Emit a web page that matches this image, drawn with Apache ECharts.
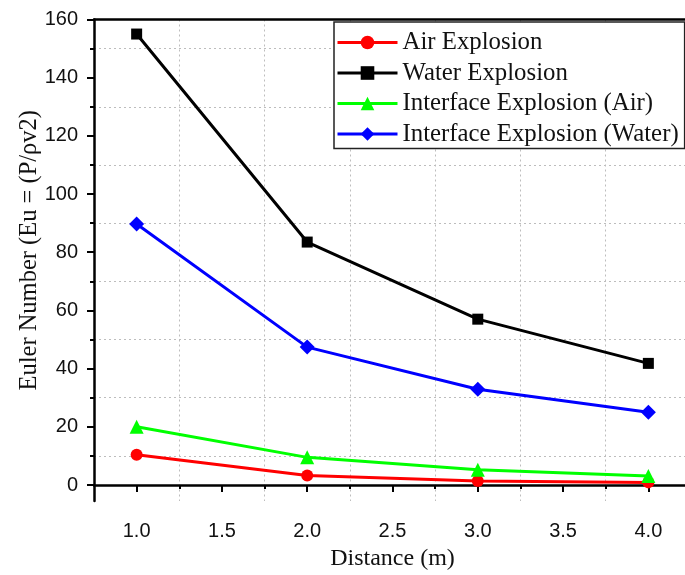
<!DOCTYPE html>
<html>
<head>
<meta charset="utf-8">
<script src="https://cdn.jsdelivr.net/npm/echarts@6/dist/echarts.min.js"></script>
<style>
  html, body { margin: 0; padding: 0; background: #fff; }
  #chart { width: 685px; height: 575px; }
</style>
</head>
<body>
<div id="chart"></div>
<script>
// Euler number versus stand-off distance for four explosion scenarios
const distance = [1.0, 2.0, 3.0, 4.0];
const airExplosion = [10.4, 3.3, 1.4, 0.9];
const waterExplosion = [155.0, 83.5, 57.0, 41.8];
const interfaceAir = [20.0, 9.5, 5.2, 3.1];
const interfaceWater = [89.7, 47.4, 32.9, 25.0];

const xMajorTicks = [1.0, 1.5, 2.0, 2.5, 3.0, 3.5, 4.0];
const xMinorTicks = [1.25, 1.75, 2.25, 2.75, 3.25, 3.75];
const yMajorTicks = [0, 20, 40, 60, 80, 100, 120, 140, 160];
const yMinorTicks = [10, 30, 50, 70, 90, 110, 130, 150];

const X_MIN = 0.75, X_MAX = 4.25;
const Y_MIN = -5.5, Y_MAX = 160;

const serif = '"Liberation Serif", "Times New Roman", serif';
const sans = '"Liberation Sans", Arial, sans-serif';

const pairs = (ys) => distance.map((x, i) => [x, ys[i]]);

const chart = echarts.init(document.getElementById('chart'), null, { renderer: 'canvas' });

const gridDash = { color: '#bdbdbd', width: 1, type: [2, 3] };

chart.setOption({
  animation: false,
  backgroundColor: '#fff',
  grid: { left: 94, top: 19.5, bottom: 74, right: -6, outerBoundsMode: 'none' },
  legend: {
    orient: 'vertical',
    left: 334,
    top: 22,
    itemWidth: 60,
    itemHeight: 17,
    itemGap: 5.5,
    padding: [8, 6, 2, 2],
    borderColor: '#222',
    borderWidth: 1.5,
    backgroundColor: '#fff',
    lineStyle: { width: 3 },
    textStyle: { fontFamily: serif, fontSize: 24.8, color: '#111' }
  },
  xAxis: [
    {
      type: 'value', min: X_MIN, max: X_MAX, position: 'bottom',
      axisLine: { lineStyle: { color: '#000', width: 2.5 } },
      axisTick: { customValues: xMajorTicks, length: 7, lineStyle: { color: '#000', width: 2 } },
      axisLabel: {
        customValues: xMajorTicks, margin: 20,
        fontFamily: sans, fontSize: 20, color: '#111',
        formatter: (v) => v.toFixed(1)
      },
      splitLine: { show: false },
      name: 'Distance (m)', nameLocation: 'middle', nameGap: 46, nameMoveOverlap: false,
      nameTextStyle: { fontFamily: serif, fontSize: 24, color: '#111' }
    },
    {
      type: 'value', min: X_MIN, max: X_MAX, position: 'bottom',
      axisLine: { show: false },
      axisTick: { customValues: xMinorTicks, length: 4, lineStyle: { color: '#000', width: 2 } },
      axisLabel: { show: false },
      splitLine: { show: true, lineStyle: gridDash }
    },
    {
      type: 'value', min: X_MIN, max: X_MAX, position: 'top',
      axisLine: { lineStyle: { color: '#000', width: 2.5 } },
      axisTick: { show: false }, axisLabel: { show: false }, splitLine: { show: false }
    }
  ],
  yAxis: [
    {
      type: 'value', min: Y_MIN, max: Y_MAX, position: 'left',
      axisLine: { show: true, lineStyle: { color: '#000', width: 2.5 } },
      axisTick: { show: true, customValues: yMajorTicks, length: 7, lineStyle: { color: '#000', width: 2 } },
      axisLabel: { customValues: yMajorTicks, margin: 16, fontFamily: sans, fontSize: 20, color: '#111' },
      splitLine: { show: false },
      name: 'Euler Number (Eu = (P/ρv2)', nameLocation: 'middle', nameGap: 52, nameMoveOverlap: false,
      nameTextStyle: { fontFamily: serif, fontSize: 24.5, color: '#111', padding: [0, 0, 0, 20] }
    },
    {
      type: 'value', min: Y_MIN, max: Y_MAX, position: 'left',
      axisLine: { show: false },
      axisTick: { show: true, customValues: yMinorTicks, length: 4, lineStyle: { color: '#000', width: 2 } },
      axisLabel: { show: false },
      splitLine: { show: true, lineStyle: gridDash }
    }
  ],
  series: [
    {
      name: 'Air Explosion', type: 'line', data: pairs(airExplosion),
      xAxisIndex: 0, yAxisIndex: 0,
      symbol: 'circle', symbolSize: 12,
      itemStyle: { color: '#ff0000' }, lineStyle: { color: '#ff0000', width: 3 }
    },
    {
      name: 'Water Explosion', type: 'line', data: pairs(waterExplosion),
      xAxisIndex: 0, yAxisIndex: 0,
      symbol: 'rect', symbolSize: 11,
      itemStyle: { color: '#000000' }, lineStyle: { color: '#000000', width: 3 }
    },
    {
      name: 'Interface Explosion (Air)', type: 'line', data: pairs(interfaceAir),
      xAxisIndex: 0, yAxisIndex: 0,
      symbol: 'triangle', symbolSize: 14,
      itemStyle: { color: '#00ff00' }, lineStyle: { color: '#00ff00', width: 3 }
    },
    {
      name: 'Interface Explosion (Water)', type: 'line', data: pairs(interfaceWater),
      xAxisIndex: 0, yAxisIndex: 0,
      symbol: 'diamond', symbolSize: 15,
      itemStyle: { color: '#0000ff' }, lineStyle: { color: '#0000ff', width: 3 }
    }
  ]
});
</script>
</body>
</html>
